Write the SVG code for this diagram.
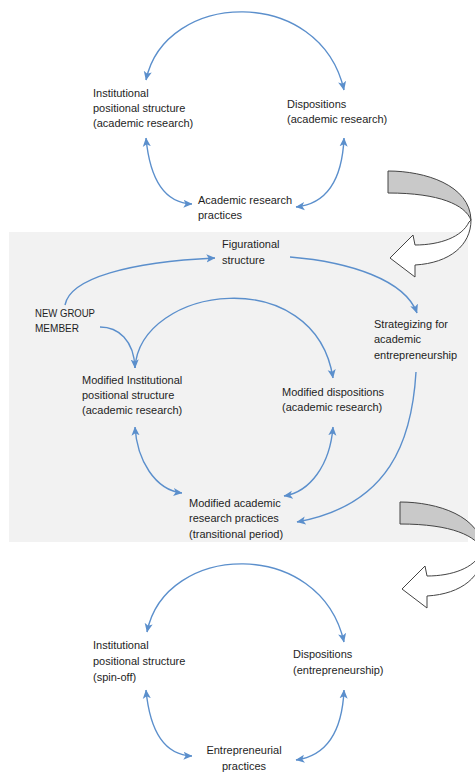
<svg xmlns="http://www.w3.org/2000/svg" width="475" height="772" viewBox="0 0 475 772">
<defs>
<style>
text{font-family:"Liberation Sans",Arial,sans-serif;font-size:11px;fill:#1e1e1e}
.c{fill:none;stroke:#5b8fcc;stroke-width:1.4}
.back{fill:#c9c9c9;stroke:#444;stroke-width:1}
.front{fill:#fff;stroke:#444;stroke-width:1}
</style>
<marker id="ah" viewBox="0 0 10 10" refX="9.5" refY="5" markerWidth="9" markerHeight="9" markerUnits="userSpaceOnUse" orient="auto-start-reverse">
<path d="M0,0.5 L10,5 L0,9.5 L2.5,5 Z" fill="#5b8fcc"/>
</marker>
</defs>
<rect x="0" y="0" width="475" height="772" fill="#fff"/>
<rect id="panel" x="9" y="232" width="459" height="310" fill="#f2f2f2"/>

<g id="blockarrow1">
<path class="back" d="M388,171 C425,171 470,185 471,220 C465,205 440,193 388,193 Z"/>
<path class="front" d="M471,220 C471,245 450,263 415,265 L415,277 L390,258 L413,235 L415,245 C440,245 462,237 469,222 Z"/>
</g>
<g id="blockarrow2" transform="translate(12,331)">
<path class="back" d="M388,171 C425,171 470,185 471,220 C465,205 440,193 388,193 Z"/>
<path class="front" d="M471,220 C471,245 450,263 415,265 L415,277 L390,258 L413,235 L415,245 C440,245 462,237 469,222 Z"/>
</g>

<g id="connectors">
<path class="c" marker-start="url(#ah)" marker-end="url(#ah)" d="M146,80 C165,-10 320,-15 344,90"/>
<path class="c" marker-start="url(#ah)" marker-end="url(#ah)" d="M146,138 C150,180 165,203 192,204"/>
<path class="c" marker-start="url(#ah)" marker-end="url(#ah)" d="M344,138 C342,183 325,204 296,207"/>

<path class="c" marker-end="url(#ah)" d="M65,305 C70,278 130,262 215,258"/>
<path class="c" marker-end="url(#ah)" d="M100,327 C118,327 134,340 135,368"/>
<path class="c" marker-end="url(#ah)" d="M135,368 C140,285 315,262 333,378"/>
<path class="c" marker-end="url(#ah)" d="M290,257 C350,262 405,280 417,313"/>
<path class="c" marker-end="url(#ah)" d="M416,372 C412,440 390,505 297,522"/>
<path class="c" marker-start="url(#ah)" marker-end="url(#ah)" d="M135,427 C137,460 155,490 182,493"/>
<path class="c" marker-start="url(#ah)" marker-end="url(#ah)" d="M333,427 C330,465 310,492 284,496"/>

<path class="c" marker-start="url(#ah)" marker-end="url(#ah)" d="M147,632 C165,542 320,537 344,642"/>
<path class="c" marker-start="url(#ah)" marker-end="url(#ah)" d="M146,690 C150,732 165,755 192,756"/>
<path class="c" marker-start="url(#ah)" marker-end="url(#ah)" d="M344,690 C342,735 325,756 296,760"/>
</g>

<g id="inst-top"><text x="93" y="97">Institutional</text><text x="93" y="112">positional structure</text><text x="93" y="127">(academic research)</text></g>
<g id="disp-top"><text x="287" y="108">Dispositions</text><text x="287" y="123">(academic research)</text></g>
<g id="practices-top"><text x="198" y="204">Academic research</text><text x="198" y="219">practices</text></g>

<g id="figurational"><text x="222" y="248">Figurational</text><text x="222" y="264">structure</text></g>
<g id="newmember"><text x="35" y="317" textLength="60" lengthAdjust="spacingAndGlyphs">NEW GROUP</text><text x="35" y="332" textLength="44" lengthAdjust="spacingAndGlyphs">MEMBER</text></g>
<g id="strategizing"><text x="374" y="328">Strategizing for</text><text x="374" y="343">academic</text><text x="374" y="359">entrepreneurship</text></g>
<g id="mod-inst"><text x="82" y="384">Modified Institutional</text><text x="82" y="399">positional structure</text><text x="82" y="414">(academic research)</text></g>
<g id="mod-disp"><text x="282" y="396">Modified dispositions</text><text x="282" y="411">(academic research)</text></g>
<g id="mod-practices"><text x="189" y="507">Modified academic</text><text x="189" y="522">research practices</text><text x="189" y="538">(transitional period)</text></g>

<g id="inst-bottom"><text x="93" y="649">Institutional</text><text x="93" y="665">positional structure</text><text x="93" y="681">(spin-off)</text></g>
<g id="disp-bottom"><text x="293" y="658">Dispositions</text><text x="293" y="674">(entrepreneurship)</text></g>
<g id="practices-bottom"><text x="244" y="754" text-anchor="middle">Entrepreneurial</text><text x="244" y="770" text-anchor="middle">practices</text></g>
</svg>
